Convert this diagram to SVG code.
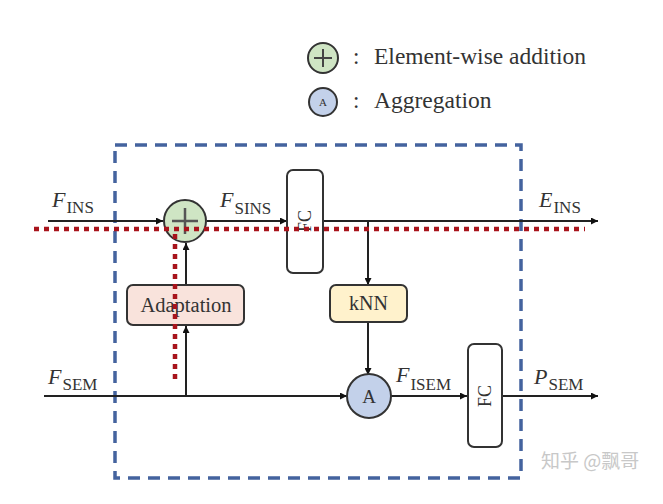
<svg xmlns="http://www.w3.org/2000/svg" width="663" height="504" viewBox="0 0 663 504">
<defs>
<marker id="arr" viewBox="0 0 10 10" refX="10" refY="5" markerWidth="7" markerHeight="7" orient="auto" markerUnits="userSpaceOnUse"><path d="M0,0 L10,5 L0,10 z" fill="#111"/></marker>
<style>
text{font-family:'Liberation Serif','Times New Roman',serif}
.t{fill:#333}
.lab{font-size:22px;font-style:italic}
.sub{font-size:17px;font-style:normal}
.ln{stroke:#222;stroke-width:2;fill:none}
</style>
</defs>
<rect width="663" height="504" fill="#fff"/>
<g font-family="Liberation Serif, serif">
<g id="legend">
<circle cx="323" cy="58" r="15" fill="#cfe5c4" stroke="#333" stroke-width="2"/>
<path d="M314,58 H332 M323,49 V67" stroke="#444" stroke-width="2"/>
<text class="t" x="353" y="64" font-size="23">:</text>
<text class="t" x="374" y="64" font-size="23.5">Element-wise addition</text>
<circle cx="323" cy="102" r="14" fill="#c3d1ea" stroke="#333" stroke-width="2"/>
<text class="t" x="323" y="106" font-size="11" text-anchor="middle">A</text>
<text class="t" x="353" y="108" font-size="23">:</text>
<text class="t" x="374" y="108" font-size="23.5">Aggregation</text>
</g>
<rect id="module" x="115" y="145" width="406" height="333" fill="none" stroke="#44639e" stroke-width="3.5" stroke-dasharray="12,8"/>
<g id="connectors">
<line class="ln" x1="48" y1="221" x2="163" y2="221" marker-end="url(#arr)"/>
<line class="ln" x1="207" y1="221" x2="287" y2="221" marker-end="url(#arr)"/>
<line class="ln" x1="323" y1="221" x2="598" y2="221" marker-end="url(#arr)"/>
<line class="ln" x1="368" y1="221" x2="368" y2="285" marker-end="url(#arr)"/>
<line class="ln" x1="368" y1="322" x2="368" y2="375" marker-end="url(#arr)"/>
<line class="ln" x1="44" y1="396" x2="347" y2="396" marker-end="url(#arr)"/>
<line class="ln" x1="186" y1="396" x2="186" y2="326" marker-end="url(#arr)"/>
<line class="ln" x1="186" y1="285" x2="186" y2="243" marker-end="url(#arr)"/>
<line class="ln" x1="391" y1="396" x2="467" y2="396" marker-end="url(#arr)"/>
<line class="ln" x1="502" y1="396" x2="598" y2="396" marker-end="url(#arr)"/>
</g>
<g id="add">
<circle cx="185" cy="221" r="21" fill="#cfe5c4" stroke="#333" stroke-width="2"/>
<path d="M172,221 H198 M185,208 V234" stroke="#555" stroke-width="2.5"/>
</g>
<g id="fc1">
<rect x="287" y="170" width="36" height="103" rx="6" fill="#fff" stroke="#333" stroke-width="2"/>
<text class="t" font-size="18" text-anchor="middle" transform="translate(311,221) rotate(-90)">FC</text>
</g>
<g id="adaptation">
<rect x="127" y="285" width="117" height="40" rx="6" fill="#f9e3dc" stroke="#333" stroke-width="2"/>
<text class="t" x="186" y="312" font-size="20.5" text-anchor="middle">Adaptation</text>
</g>
<g id="knn">
<rect x="330" y="285" width="77" height="37" rx="6" fill="#fff2cc" stroke="#333" stroke-width="2"/>
<text class="t" x="368.5" y="310" font-size="20" text-anchor="middle">kNN</text>
</g>
<g id="agg">
<circle cx="369" cy="396" r="22" fill="#c3d1ea" stroke="#333" stroke-width="2"/>
<text class="t" x="369" y="403" font-size="19" text-anchor="middle">A</text>
</g>
<g id="fc2">
<rect x="468" y="344" width="34" height="103" rx="6" fill="#fff" stroke="#333" stroke-width="2"/>
<text class="t" font-size="18" text-anchor="middle" transform="translate(491,396) rotate(-90)">FC</text>
</g>
<g id="overlay">
<line x1="34" y1="229" x2="585" y2="229" stroke="#a8141c" stroke-width="4.5" stroke-dasharray="5,5"/>
<line x1="175" y1="234" x2="175" y2="380" stroke="#a8141c" stroke-width="4.5" stroke-dasharray="5,5"/>
</g>
<g id="labels">
<text class="t lab" x="52" y="207">F<tspan class="sub" dx="1" dy="6">INS</tspan></text>
<text class="t lab" x="220" y="207">F<tspan class="sub" dx="1" dy="7">SINS</tspan></text>
<text class="t lab" x="539" y="207">E<tspan class="sub" dx="1" dy="6">INS</tspan></text>
<text class="t lab" x="48" y="384">F<tspan class="sub" dx="1" dy="6">SEM</tspan></text>
<text class="t lab" x="396" y="382">F<tspan class="sub" dx="1" dy="8">ISEM</tspan></text>
<text class="t lab" x="534" y="384">P<tspan class="sub" dx="1" dy="6">SEM</tspan></text>
</g>
</g>
<text x="541" y="468" style="font-family:'Noto Sans CJK SC',sans-serif" font-size="19" fill="#c8c8c8">知乎 @飘哥</text>
</svg>
